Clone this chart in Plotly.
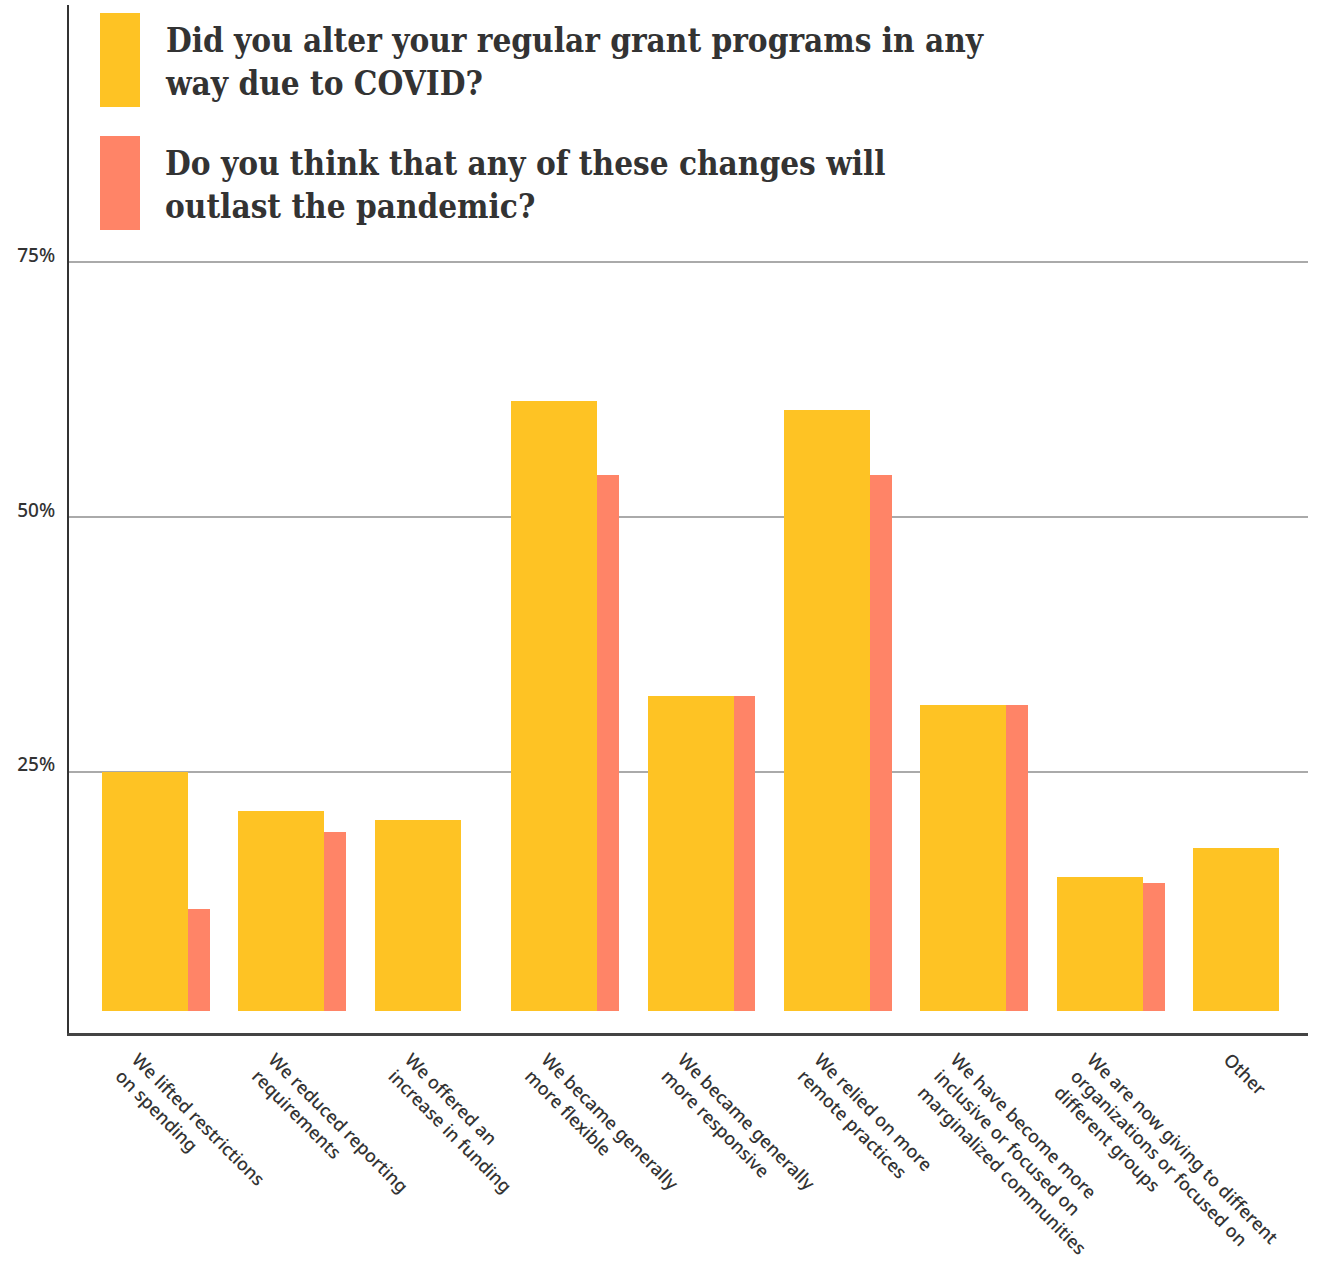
import plotly.graph_objects as go

categories = [
    "We lifted restrictions<br>on spending",
    "We reduced reporting<br>requirements",
    "We offered an<br>increase in funding",
    "We became generally<br>more flexible",
    "We became generally<br>more responsive",
    "We relied on more<br>remote practices",
    "We have become more<br>inclusive or focused on<br>marginalized communities",
    "We are now giving to different<br>organizations or focused on<br>different groups",
    "Other",
]
altered = [25.0, 21.2, 20.3, 61.4, 32.4, 60.5, 31.5, 14.7, 17.5]
outlast = [11.5, 19.1, None, 54.1, 32.4, 54.1, 31.5, 14.1, None]

series_names = [
    "Did you alter your regular grant programs in any<br>way due to COVID?",
    "Do you think that any of these changes will<br>outlast the pandemic?",
]
ytick_vals = [25, 50, 75]
ytick_text = ["25%", "50%", "75%"]

BASE = 1.5
YELLOW = "#FEC324"
RED = "#FF8467"
TEXT = "#333333"

fig = go.Figure()
fig.add_trace(go.Bar(
    x=categories,
    y=[None if v is None else v - BASE for v in outlast],
    base=BASE,
    marker=dict(color=RED, line=dict(width=0)),
    offset=-0.26, width=0.79,
    name=series_names[1], showlegend=False,
))
fig.add_trace(go.Bar(
    x=categories,
    y=[None if v is None else v - BASE for v in altered],
    base=BASE,
    marker=dict(color=YELLOW, line=dict(width=0)),
    offset=-0.26, width=0.63,
    name=series_names[0], showlegend=False,
))

W, H = 1320, 1268
L, R, T, B = 69, 12, 5, 235
pw, ph = W - L - R, H - T - B

def px(x):
    return (x - L) / pw

def py(y):
    return 1 - (y - T) / ph

# legend swatches
fig.add_shape(type="rect", xref="paper", yref="paper",
              x0=px(100), x1=px(140), y0=py(107), y1=py(13),
              fillcolor=YELLOW, line=dict(width=0))
fig.add_shape(type="rect", xref="paper", yref="paper",
              x0=px(100), x1=px(140), y0=py(230), y1=py(136),
              fillcolor=RED, line=dict(width=0))

legend_font = dict(family="DejaVu Serif Condensed, DejaVu Serif", size=33, color=TEXT, weight="bold")
for name, ytop in zip(series_names, [19, 142]):
    fig.add_annotation(
        xref="paper", yref="paper", x=px(163), y=py(ytop),
        xanchor="left", yanchor="top", align="left",
        text=name, showarrow=False, font=legend_font,
    )

tick_font = dict(family="Noto Sans, Open Sans, sans-serif", size=18, color=TEXT, weight=500)
ytick_font = dict(family="Noto Sans, Open Sans, sans-serif", size=19, color=TEXT, weight=500)

fig.update_layout(
    width=W, height=H,
    margin=dict(l=L, r=R, t=T, b=B, pad=0),
    paper_bgcolor="white", plot_bgcolor="white",
    barmode="overlay", bargap=0,
    font=dict(family="Noto Sans, sans-serif", color=TEXT),
)
fig.update_xaxes(
    type="category", range=[-0.5, 8.58], automargin=False,
    showline=True, linecolor="#444444", linewidth=3,
    showgrid=False, zeroline=False,
    tickangle=45, ticks="", ticklabelstandoff=6,
    tickfont=tick_font,
)
fig.update_yaxes(
    range=[-0.62, 100.2], automargin=False,
    showline=True, linecolor="#333333", linewidth=2,
    showgrid=True, gridcolor="#aaaaaa", gridwidth=1.5,
    zeroline=False,
    tickvals=ytick_vals, ticktext=ytick_text,
    ticks="", ticklabelshift=-7, ticklabelstandoff=8,
    tickfont=ytick_font,
)

fig.write_html("out.html")
